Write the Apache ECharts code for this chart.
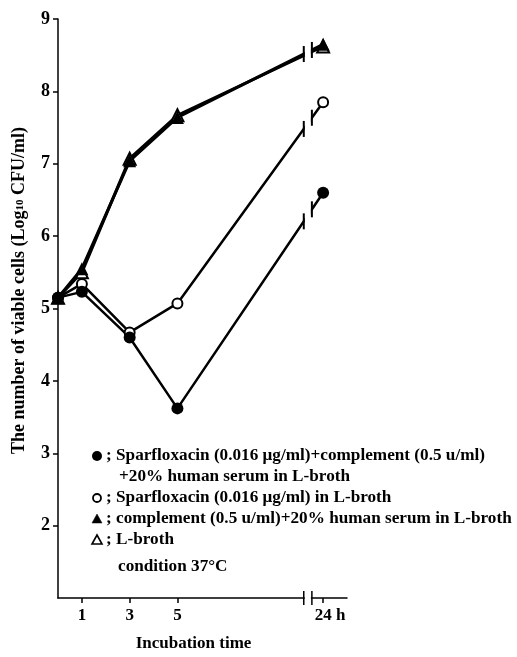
<!DOCTYPE html>
<html>
<head>
<meta charset="utf-8">
<script src="https://cdn.jsdelivr.net/npm/echarts@6/dist/echarts.min.js"></script>
<style>
  html, body { margin: 0; padding: 0; background: #fff; }
  #chart { width: 517px; height: 657px; }
</style>
</head>
<body>
<div id="chart"></div>
<script>
// incubation hours and log10 CFU/ml
const hours = [0, 1, 3, 5, 24];
const sparfloxacinComplement = [5.15, 5.23, 4.60, 3.62, 6.60];
const sparfloxacinOnly = [5.15, 5.34, 4.67, 5.07, 7.85];
const complementSerum = [5.15, 5.55, 7.04, 7.64, 8.65];
const lBroth = [5.15, 5.50, 7.07, 7.67, 8.62];
const xTickHours = [1, 3, 5, 24];
const xTickLabels = ['1', '3', '5', '24 h'];
const yTicks = [2, 3, 4, 5, 6, 7, 8, 9];

const FONT = '"Liberation Serif", "Times New Roman", serif';

// axis is broken between 5 h and 24 h, 24 h is drawn at BREAK_POS
const BREAK_POS = 11.1;
const BREAK_L = 10.29;
const BREAK_R = 10.63;
function axisPos(h) {
  return h > 5 ? BREAK_POS : h;
}
function toPoints(vals) {
  return hours.map((h, i) => [axisPos(h), vals[i]]);
}

let chart = echarts.init(document.getElementById('chart'), null, { renderer: 'canvas' });

const options = {
  backgroundColor: '#fff',
  animation: false,
  grid: { left: 58, right: 170, top: 19, bottom: 51 },
  xAxis: {
    type: 'value',
    min: 0,
    max: 12.1,
    splitLine: { show: false },
    axisLine: { lineStyle: { color: '#000', width: 1.5 } },
    axisTick: {
      customValues: xTickHours.map(axisPos),
      length: 5,
      lineStyle: { color: '#000', width: 1.5 }
    },
    axisLabel: {
      customValues: xTickHours.map(axisPos),
      margin: 9,
      color: '#000',
      fontFamily: FONT,
      fontWeight: 'bold',
      fontSize: 17,
      formatter: function (v) {
        const i = xTickHours.map(axisPos).indexOf(v);
        return i === xTickLabels.length - 1 ? '{wide|' + xTickLabels[i] + '}' : xTickLabels[i];
      },
      rich: {
        wide: { fontFamily: FONT, fontWeight: 'bold', fontSize: 17, color: '#000', padding: [0, 0, 0, 14] }
      }
    },
    name: 'Incubation time',
    nameLocation: 'middle',
    nameGap: 37,
    nameTextStyle: {
      color: '#000', fontFamily: FONT, fontWeight: 'bold', fontSize: 17, padding: [0, 18, 0, 0]
    }
  },
  yAxis: {
    type: 'value',
    min: 1,
    max: 9,
    splitLine: { show: false },
    axisLine: { lineStyle: { color: '#000', width: 1.5 } },
    axisTick: { customValues: yTicks, length: 5, lineStyle: { color: '#000', width: 1.5 } },
    axisLabel: {
      customValues: yTicks,
      margin: 8,
      color: '#000',
      fontFamily: FONT,
      fontWeight: 'bold',
      fontSize: 18
    },
    name: 'The number of viable cells (Log{sub|10} CFU/ml)',
    nameLocation: 'middle',
    nameRotate: 90,
    nameGap: 30,
    nameTextStyle: {
      color: '#000', fontFamily: FONT, fontWeight: 'bold', fontSize: 18, padding: [0, 0, 0, 36],
      rich: {
        sub: { fontFamily: FONT, fontWeight: 'bold', fontSize: 11, color: '#000', verticalAlign: 'bottom', padding: [0, 0, 2, 0] }
      }
    }
  },
  series: [
    {
      name: 'L-broth',
      type: 'line',
      data: toPoints(lBroth),
      symbol: 'emptyTriangle',
      symbolSize: 12,
      itemStyle: { color: '#000', borderWidth: 2 },
      lineStyle: { color: '#000', width: 3 }
    },
    {
      name: 'complement (0.5 u/ml)+20% human serum in L-broth',
      type: 'line',
      data: toPoints(complementSerum),
      symbol: 'triangle',
      symbolSize: 13,
      itemStyle: { color: '#000' },
      lineStyle: { color: '#000', width: 3 }
    },
    {
      name: 'Sparfloxacin (0.016 μg/ml) in L-broth',
      type: 'line',
      data: toPoints(sparfloxacinOnly),
      symbol: 'emptyCircle',
      symbolSize: 10,
      itemStyle: { color: '#000', borderWidth: 2 },
      lineStyle: { color: '#000', width: 2.5 }
    },
    {
      name: 'Sparfloxacin (0.016 μg/ml)+complement (0.5 u/ml)+20% human serum in L-broth',
      type: 'line',
      data: toPoints(sparfloxacinComplement),
      symbol: 'circle',
      symbolSize: 12,
      itemStyle: { color: '#000' },
      lineStyle: { color: '#000', width: 2.5 }
    }
  ]
};

chart.setOption(options);

// break marks and legend drawn on top
function px(x, y) {
  return chart.convertToPixel({ gridIndex: 0 }, [x, y]);
}
const g = [];
const leftBrk = px(BREAK_L, 1);
const rightBrk = px(BREAK_R, 1);
const topY = px(0, 9)[1];
g.push({ type: 'rect', z: 100, shape: { x: leftBrk[0] + 1, y: topY - 10, width: rightBrk[0] - leftBrk[0] - 2, height: leftBrk[1] - topY + 12 }, style: { fill: '#fff' } });
[leftBrk[0], rightBrk[0]].forEach(function (x) {
  g.push({ type: 'line', z: 101, shape: { x1: x, y1: leftBrk[1] - 7, x2: x, y2: leftBrk[1] + 7 }, style: { stroke: '#000', lineWidth: 1.5 } });
});
[sparfloxacinComplement, sparfloxacinOnly, complementSerum].forEach(function (vals) {
  const a = px(5, vals[3]);
  const b = px(BREAK_POS, vals[4]);
  [leftBrk[0], rightBrk[0]].forEach(function (x) {
    const y = a[1] + (b[1] - a[1]) * (x - a[0]) / (b[0] - a[0]);
    g.push({ type: 'line', z: 101, shape: { x1: x, y1: y - 8, x2: x, y2: y + 8 }, style: { stroke: '#000', lineWidth: 2 } });
  });
});

const legendFont = 'bold 17.2px ' + FONT;
const legendRows = [
  { sym: 'circle', text: '; Sparfloxacin (0.016 μg/ml)+complement (0.5 u/ml)', y: 456 },
  { sym: null, text: '+20% human serum in L-broth', y: 477, x: 119 },
  { sym: 'emptyCircle', text: '; Sparfloxacin (0.016 μg/ml) in L-broth', y: 498 },
  { sym: 'triangle', text: '; complement (0.5 u/ml)+20% human serum in L-broth', y: 519 },
  { sym: 'emptyTriangle', text: '; L-broth', y: 540 },
  { sym: null, text: 'condition 37°C', y: 567, x: 118 }
];
legendRows.forEach(function (row) {
  const cx = 97;
  if (row.sym === 'circle' || row.sym === 'emptyCircle') {
    g.push({ type: 'circle', z: 102, shape: { cx: cx, cy: row.y, r: row.sym === 'circle' ? 5 : 4 },
      style: { fill: row.sym === 'circle' ? '#000' : '#fff', stroke: '#000', lineWidth: row.sym === 'circle' ? 0 : 1.8 } });
  } else if (row.sym) {
    g.push({ type: 'polygon', z: 102, shape: { points: [[cx, row.y - 5], [cx + 5, row.y + 4], [cx - 5, row.y + 4]] },
      style: { fill: row.sym === 'triangle' ? '#000' : '#fff', stroke: '#000', lineWidth: row.sym === 'triangle' ? 0.5 : 1.6 } });
  }
  g.push({ type: 'text', z: 102, x: row.x || 106, y: row.y,
    style: { text: row.text, font: legendFont, fill: '#000', verticalAlign: 'middle' } });
});

chart.setOption({ graphic: g });
</script>
</body>
</html>
